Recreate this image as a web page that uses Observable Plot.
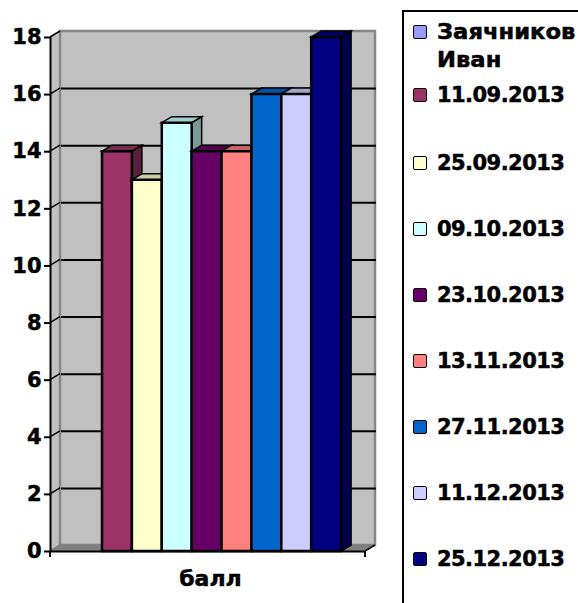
<!DOCTYPE html>
<html>
<head>
<meta charset="utf-8">
<script src="https://cdn.jsdelivr.net/npm/d3@7"></script>
<script src="https://cdn.jsdelivr.net/npm/@observablehq/plot@0.6"></script>
<style>
  html, body { margin: 0; padding: 0; background: #fff; }
  #root { position: relative; width: 578px; height: 603px; overflow: hidden; font-family: "DejaVu Sans", sans-serif; font-weight: bold; }
  #root svg { position: absolute; left: 0; top: 0; overflow: visible; }
  #root svg text { stroke: #000; stroke-width: 0.5px; }
  #legend { position: absolute; left: 402px; top: 10px; width: 176px; height: 593px; box-sizing: border-box; border-left: 2px solid #000; border-top: 2px solid #000; }
  .row { position: absolute; left: 9px; display: flex; align-items: flex-start; color: #000; font-size: 21px; line-height: 28px; -webkit-text-stroke: 0.5px #000; }
  .sw { width: 12px; height: 12px; border: 1.5px solid #000; border-radius: 2px; margin-top: 7px; margin-right: 10px; flex: none; }
  .tx { display: inline-block; transform-origin: left top; white-space: nowrap; }
</style>
</head>
<body>
<div id="root"></div>
<script>
const seriesNames = ["Заячников Иван", "11.09.2013", "25.09.2013", "09.10.2013", "23.10.2013", "13.11.2013", "27.11.2013", "11.12.2013", "25.12.2013"];
const seriesValues = [null, 14, 13, 15, 14, 14, 16, 16, 18];
const seriesColors = ["#9999FF", "#993366", "#FFFFCC", "#CCFFFF", "#660066", "#FF8080", "#0066CC", "#CCCCFF", "#000080"];
const yTicks = [0, 2, 4, 6, 8, 10, 12, 14, 16, 18];
const gridTicks = [2, 4, 6, 8, 10, 12, 14, 16];
const axisLabel = "балл";

const slotMin = -0.74, slotMax = 9.8;
const depthX = 10, depthY = -6;
const rows = seriesNames.map((name, slot) => ({name, slot, value: seriesValues[slot], color: seriesColors[slot]}));
const bars = rows.filter(d => d.value != null);

const shade = (c, k) => { const r = d3.rgb(c); return d3.rgb(r.r * k, r.g * k, r.b * k).formatHex(); };
const pts = a => a.map(p => p.join(",")).join(" ");

function faces(build) {
  return (index, scales, values) => {
    const g = d3.create("svg:g");
    for (const i of index) {
      const x1 = Math.min(values.x1[i], values.x2[i]), x2 = Math.max(values.x1[i], values.x2[i]);
      const yb = Math.max(values.y1[i], values.y2[i]), yt = Math.min(values.y1[i], values.y2[i]);
      for (const f of build(i, x1, x2, yb, yt)) {
        g.append("polygon").attr("points", pts(f.p)).attr("fill", f.fill)
          .attr("stroke", f.stroke ?? "none").attr("stroke-width", f.sw ?? 0).attr("stroke-linejoin", "miter");
      }
    }
    return g.node();
  };
}

const wall = [{x1: slotMin, x2: slotMax, y1: 0, y2: 18}];

const chart = Plot.plot({
  width: 402,
  height: 603,
  marginLeft: 50,
  marginRight: 37,
  marginTop: 37,
  marginBottom: 52,
  style: {background: "transparent", overflow: "visible"},
  x: {type: "linear", domain: [slotMin, slotMax], axis: null},
  y: {type: "linear", domain: [0, 18], axis: null},
  color: {type: "identity"},
  marks: [
    // walls and floor
    Plot.rect(wall, {x1: "x1", x2: "x2", y1: "y1", y2: "y2", render: faces((i, x1, x2, yb, yt) => [
      {p: [[x1, yb], [x1 + depthX, yb + depthY], [x1 + depthX, yt + depthY], [x1, yt]], fill: "#c0c0c0"},
      {p: [[x1 + depthX, yb + depthY], [x2 + depthX, yb + depthY], [x2 + depthX, yt + depthY], [x1 + depthX, yt + depthY]], fill: "#c0c0c0", stroke: "#868686", sw: 2.5},
      {p: [[x1, yb], [x2, yb], [x2 + depthX, yb + depthY], [x1 + depthX, yb + depthY]], fill: "#808080", stroke: "#808080", sw: 1}
    ])}),
    // gridlines on the back wall
    Plot.ruleY(gridTicks, {x1: slotMin, x2: slotMax, dx: depthX + 1, dy: depthY, stroke: "#000", strokeWidth: 2, strokeOpacity: 1}),
    // diagonal tick connectors on the side wall
    Plot.ruleY(yTicks, {x1: slotMin, x2: slotMax, stroke: "#000",
      render: (index, scales) => {
        const g = d3.create("svg:g");
        const x = scales.x(slotMin);
        for (const i of index) {
          const y = scales.y(yTicks[i]);
          g.append("line").attr("x1", x).attr("x2", x + depthX).attr("y1", y).attr("y2", y + depthY)
            .attr("stroke", yTicks[i] === 0 ? "#808080" : "#000").attr("stroke-width", 1.5);
        }
        return g.node();
      }}),
    // bars with their side and top faces
    Plot.rect(bars, {x1: d => d.slot, x2: d => d.slot + 1, y1: () => 0, y2: "value", render: faces((i, x1, x2, yb, yt) => {
      const c = bars[i].color;
      return [
        {p: [[x2, yb], [x2 + depthX, yb + depthY], [x2 + depthX, yt + depthY], [x2, yt]], fill: shade(c, 0.6), stroke: "#000", sw: 1.5},
        {p: [[x1, yt], [x2, yt], [x2 + depthX, yt + depthY], [x1 + depthX, yt + depthY]], fill: shade(c, 0.8), stroke: "#000", sw: 1.5},
        {p: [[x1, yb], [x2, yb], [x2, yt], [x1, yt]], fill: c, stroke: "#000", sw: 2.5}
      ];
    })}),
    // axes
    Plot.ruleX([slotMin], {y1: 0, y2: 18, stroke: "#000", strokeWidth: 2}),
    Plot.ruleY([0], {x1: slotMin, x2: slotMax, stroke: "#000", strokeWidth: 2}),
    // bottom end ticks, with the right-hand floor connector
    Plot.ruleX([slotMin, slotMax], {y1: 0, y2: 0, stroke: "#000",
      render: (index, scales) => {
        const g = d3.create("svg:g");
        const y = scales.y(0);
        [slotMin, slotMax].forEach(v => {
          const x = scales.x(v);
          g.append("line").attr("x1", x).attr("x2", x).attr("y1", y).attr("y2", y + 6).attr("stroke", "#000").attr("stroke-width", 2);
        });
        const xr = scales.x(slotMax);
        g.append("line").attr("x1", xr).attr("x2", xr + depthX).attr("y1", y).attr("y2", y + depthY).attr("stroke", "#000").attr("stroke-width", 1.5);
        return g.node();
      }}),
    Plot.axisY(yTicks, {
      anchor: "left",
      tickSize: 6,
      tickPadding: 3,
      tickFormat: d => d,
      stroke: "#000",
      strokeWidth: 2,
      strokeOpacity: 1,
      label: null,
      fontSize: 21,
      fontWeight: "bold",
      fontFamily: "DejaVu Sans",
      fill: "#000"
    }),
    Plot.text([axisLabel], {x: () => 4.61, frameAnchor: "bottom", dy: 27, lineAnchor: "middle", fontSize: 22, fontWeight: "bold", fontFamily: "DejaVu Sans", fill: "#000", letterSpacing: "1px"})
  ]
});

const root = document.getElementById("root");
root.append(chart);

// legend rows: the first entry wraps on two lines
const legendTops = [6, 69, 137, 203, 269, 335, 401, 467, 533];
const legend = document.createElement("div");
legend.id = "legend";
rows.forEach((d, i) => {
  const row = document.createElement("div");
  row.className = "row";
  row.style.top = legendTops[i] + "px";
  const sw = document.createElement("span");
  sw.className = "sw";
  sw.style.background = d.color;
  const label = document.createElement("span");
  label.className = "tx";
  if (i === 0) label.style.transform = "scaleX(1.08)";
  else label.style.letterSpacing = "-0.55px";
  label.innerHTML = d.name.replace(" ", "<br>");
  row.append(sw, label);
  legend.append(row);
});
root.append(legend);
</script>
</body>
</html>
